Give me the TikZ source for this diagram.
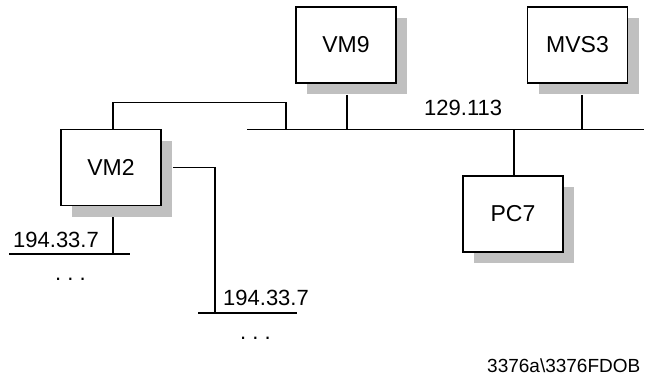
\documentclass[tikz,border=0pt]{standalone}
\usepackage{fontspec}
\setmainfont{Liberation Sans}
\usetikzlibrary{shadows}
\definecolor{shadowgray}{HTML}{C0C0C0}
\begin{document}
\begin{tikzpicture}[x=1pt,y=-1pt,
  box/.style={draw=black, line width=1.6pt, fill=white, minimum width=100pt, minimum height=76pt, inner sep=0pt,
    font=\fontsize{23}{26}\selectfont,
    general shadow={fill=shadowgray, shadow xshift=11pt, shadow yshift=-11pt}},
  wire/.style={line width=1.3pt},
  lbl/.style={inner sep=0pt, anchor=base west, font=\fontsize{22}{24}\selectfont}]
\useasboundingbox (0,0) rectangle (646,375);
% boxes
\node[box] (VM2) at (111,167.5) {VM2};
\node[box] (VM9) at (346,45) {VM9};
\node[box] (MVS3) at (577.5,45) {MVS3};
\node[box] (PC7) at (513,214) {PC7};
% bus 129.113
\coordinate (busL) at (247,129.5);
\coordinate (busR) at (644,129.5);
\coordinate (busJ) at (286,129.5);
\draw[wire] (busL) -- (busR);
\draw[wire] ([xshift=1pt,yshift=-11pt]VM9.south) -- ([xshift=1pt]VM9.south |- busL);
\draw[wire] ([xshift=4.5pt,yshift=-11pt]MVS3.south) -- ([xshift=4.5pt]MVS3.south |- busL);
\draw[wire] ([xshift=1pt]PC7.north |- busL) -- ([xshift=1pt]PC7.north);
\draw[wire] ([xshift=2pt]VM2.north) -- ++(0,-26.5) -| (busJ);
% subnet 1
\coordinate (s1L) at (9,254);
\coordinate (s1R) at (130,254);
\coordinate (s1J) at (113,254);
\draw[wire] (s1L) -- (s1R);
\draw[wire] ([xshift=2pt,yshift=-11pt]VM2.south) -- (s1J);
% subnet 2
\coordinate (s2L) at (198,313);
\coordinate (s2R) at (297,313);
\coordinate (s2J) at (215,313);
\draw[wire] (s2L) -- (s2R);
\draw[wire] ([xshift=11pt]VM2.east) -| (s2J);
% labels
\node[lbl] (n129) at (424,115) {129.113};
\node[lbl] (n194a) at (13,247) {194.33.7};
\node[lbl] (n194b) at (223,305) {194.33.7};
\node[lbl] (dots1) at (55,280) {.\ .\ .};
\node[lbl] (dots2) at (240,339) {.\ .\ .};
\node[lbl, font=\fontsize{19}{21}\selectfont] (foot) at (487,372) {3376a\textbackslash 3376FDOB};
\end{tikzpicture}
\end{document}
